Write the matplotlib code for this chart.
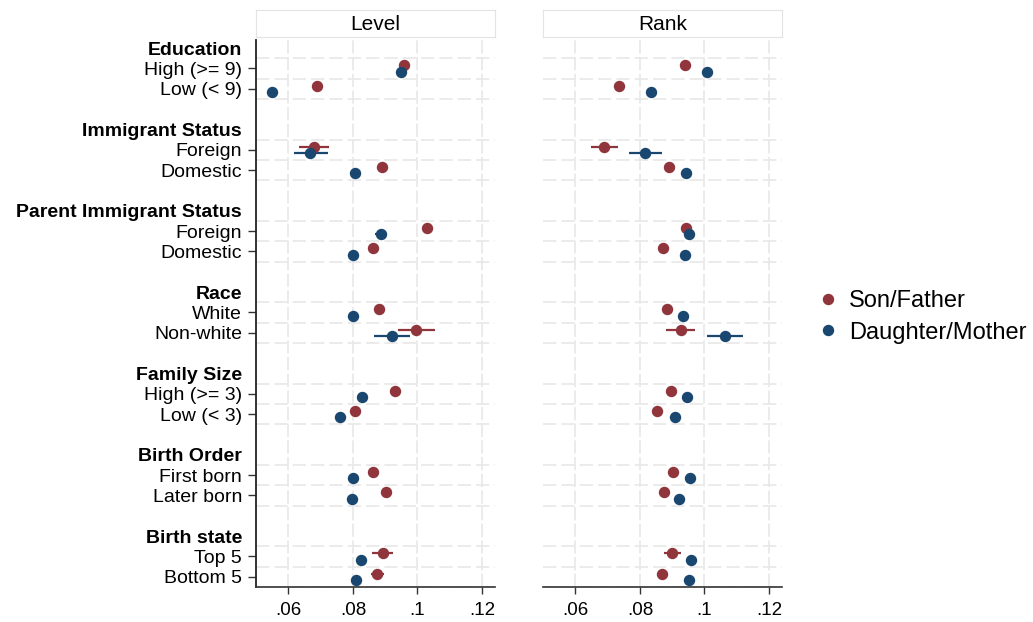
import numpy as np
import matplotlib
matplotlib.use('Agg')
import matplotlib.pyplot as plt
from matplotlib.ticker import FuncFormatter

plt.rcParams['font.family'] = ['Liberation Sans', 'DejaVu Sans']

# ---- data ----
groups = ["Education", "Immigrant Status", "Parent Immigrant Status", "Race",
          "Family Size", "Birth Order", "Birth state"]
subgroups = [["High (>= 9)", "Low (< 9)"],
             ["Foreign", "Domestic"],
             ["Foreign", "Domestic"],
             ["White", "Non-white"],
             ["High (>= 3)", "Low (< 3)"],
             ["First born", "Later born"],
             ["Top 5", "Bottom 5"]]

level_son    = [0.0959, 0.0688, 0.0680, 0.0889, 0.1029, 0.0863, 0.0882, 0.0996, 0.0930, 0.0805, 0.0863, 0.0901, 0.0892, 0.0876]
level_son_lo = [0.0951, 0.0680, 0.0632, 0.0882, 0.1020, 0.0856, 0.0876, 0.0940, 0.0922, 0.0798, 0.0855, 0.0893, 0.0859, 0.0856]
level_son_hi = [0.0967, 0.0696, 0.0727, 0.0896, 0.1038, 0.0870, 0.0888, 0.1054, 0.0938, 0.0812, 0.0871, 0.0909, 0.0924, 0.0897]
level_dau    = [0.0949, 0.0548, 0.0668, 0.0806, 0.0887, 0.0799, 0.0801, 0.0922, 0.0827, 0.0759, 0.0799, 0.0798, 0.0825, 0.0810]
level_dau_lo = [0.0941, 0.0541, 0.0618, 0.0800, 0.0869, 0.0793, 0.0795, 0.0866, 0.0820, 0.0752, 0.0793, 0.0792, 0.0817, 0.0802]
level_dau_hi = [0.0957, 0.0555, 0.0722, 0.0812, 0.0907, 0.0805, 0.0807, 0.0977, 0.0834, 0.0766, 0.0805, 0.0804, 0.0833, 0.0818]

rank_son    = [0.0939, 0.0735, 0.0690, 0.0889, 0.0943, 0.0871, 0.0884, 0.0927, 0.0895, 0.0854, 0.0903, 0.0876, 0.0900, 0.0869]
rank_son_lo = [0.0932, 0.0728, 0.0648, 0.0882, 0.0936, 0.0864, 0.0877, 0.0881, 0.0888, 0.0847, 0.0896, 0.0869, 0.0874, 0.0860]
rank_son_hi = [0.0946, 0.0742, 0.0731, 0.0896, 0.0950, 0.0878, 0.0891, 0.0972, 0.0902, 0.0861, 0.0910, 0.0883, 0.0926, 0.0878]
rank_dau    = [0.1009, 0.0833, 0.0817, 0.0942, 0.0951, 0.0939, 0.0935, 0.1064, 0.0947, 0.0910, 0.0956, 0.0922, 0.0959, 0.0953]
rank_dau_lo = [0.1002, 0.0826, 0.0766, 0.0936, 0.0941, 0.0933, 0.0929, 0.1009, 0.0940, 0.0903, 0.0949, 0.0915, 0.0950, 0.0945]
rank_dau_hi = [0.1016, 0.0840, 0.0868, 0.0948, 0.0961, 0.0945, 0.0941, 0.1119, 0.0954, 0.0917, 0.0963, 0.0929, 0.0968, 0.0961]

xticks = [0.06, 0.08, 0.10, 0.12]
xtick_labels = [".06", ".08", ".1", ".12"]

RED = '#90353B'
BLUE = '#1A476F'
GRID = '#E8E8E8'

# row layout: header, two subgroups, blank
row_labels = []
row_bold = []
data_rows = []
r = 0
for g, subs in zip(groups, subgroups):
    row_labels.append(g); row_bold.append(True); r += 1
    for s in subs:
        row_labels.append(s); row_bold.append(False); data_rows.append(r); r += 1
    if g != groups[-1]:
        row_labels.append(""); row_bold.append(False); r += 1
data_rows = np.array(data_rows)
nrows = len(row_labels)

fig = plt.figure(figsize=(10.33, 6.22), dpi=100)
W, H = 1033, 622
bottom = 1 - 587 / H
height = (587 - 40) / H
width = (495 - 256) / W
ax1 = fig.add_axes([256 / W, bottom, width, height])
ax2 = fig.add_axes([543 / W, bottom, width, height])

panels = [(ax1, "Level", level_son, level_son_lo, level_son_hi, level_dau, level_dau_lo, level_dau_hi),
          (ax2, "Rank", rank_son, rank_son_lo, rank_son_hi, rank_dau, rank_dau_lo, rank_dau_hi)]

off = 0.16
for ax, title, son, son_lo, son_hi, dau, dau_lo, dau_hi in panels:
    ax.set_xlim(0.05, 0.124)
    ax.set_ylim(nrows - 0.5, -0.4)
    # grid
    for xv in xticks:
        ax.axvline(xv, color=GRID, lw=1.2, ls=(0, (8, 2)), zorder=0)
    for yv in sorted(set(list(data_rows - 0.5) + list(data_rows + 0.5))):
        ax.axhline(yv, color=GRID, lw=1.2, ls=(0, (8, 3)), zorder=0)
    # confidence intervals
    ax.hlines(data_rows - off, son_lo, son_hi, color=RED, lw=1.6, zorder=2)
    ax.hlines(data_rows + off, dau_lo, dau_hi, color=BLUE, lw=1.6, zorder=2)
    h1, = ax.plot(son, data_rows - off, 'o', color=RED, ms=7.2, ls='none', zorder=3, label='Son/Father')
    h2, = ax.plot(dau, data_rows + off, 'o', color=BLUE, ms=7.2, ls='none', zorder=3, label='Daughter/Mother')

    ax.set_xticks(xticks)
    ax.xaxis.set_major_formatter(FuncFormatter(lambda v, p: xtick_labels[xticks.index(round(v, 2))] if round(v, 2) in xticks else ""))
    ax.tick_params(axis='x', labelsize=13.5, length=5, width=1, color='#333333', pad=6)
    for s in ['top', 'right']:
        ax.spines[s].set_visible(False)
    ax.spines['bottom'].set_color('#333333')
    ax.spines['bottom'].set_linewidth(1.2)

    # facet header box
    hax = fig.add_axes([ax.get_position().x0, 1 - 37 / H, width, 27 / H])
    hax.set_xticks([]); hax.set_yticks([])
    for s in hax.spines.values():
        s.set_color('#E3E3E3')
    hax.text(0.5, 0.48, title, ha='center', va='center', fontsize=15, transform=hax.transAxes)

# y labels on left panel only
ax1.set_yticks(range(nrows))
ax1.set_yticklabels(row_labels)
ax1.tick_params(axis='y', labelsize=14, length=6, width=1, color='#333333', pad=4)
for i, (t, lab) in enumerate(zip(ax1.yaxis.get_major_ticks(), ax1.get_yticklabels())):
    if i not in data_rows:
        t.tick1line.set_visible(False)
    if row_bold[i]:
        lab.set_fontweight('bold')
ax1.spines['left'].set_color('#222222')
ax1.spines['left'].set_linewidth(1.3)

ax2.set_yticks([])
ax2.spines['left'].set_visible(False)

fig.legend(handles=[h1, h2], loc='center left', bbox_to_anchor=(804 / W, 1 - 317 / H),
           frameon=False, fontsize=17, handletextpad=0.3, handlelength=1.2,
           labelspacing=0.4, borderaxespad=0)

fig.savefig('out.png', dpi=100)
